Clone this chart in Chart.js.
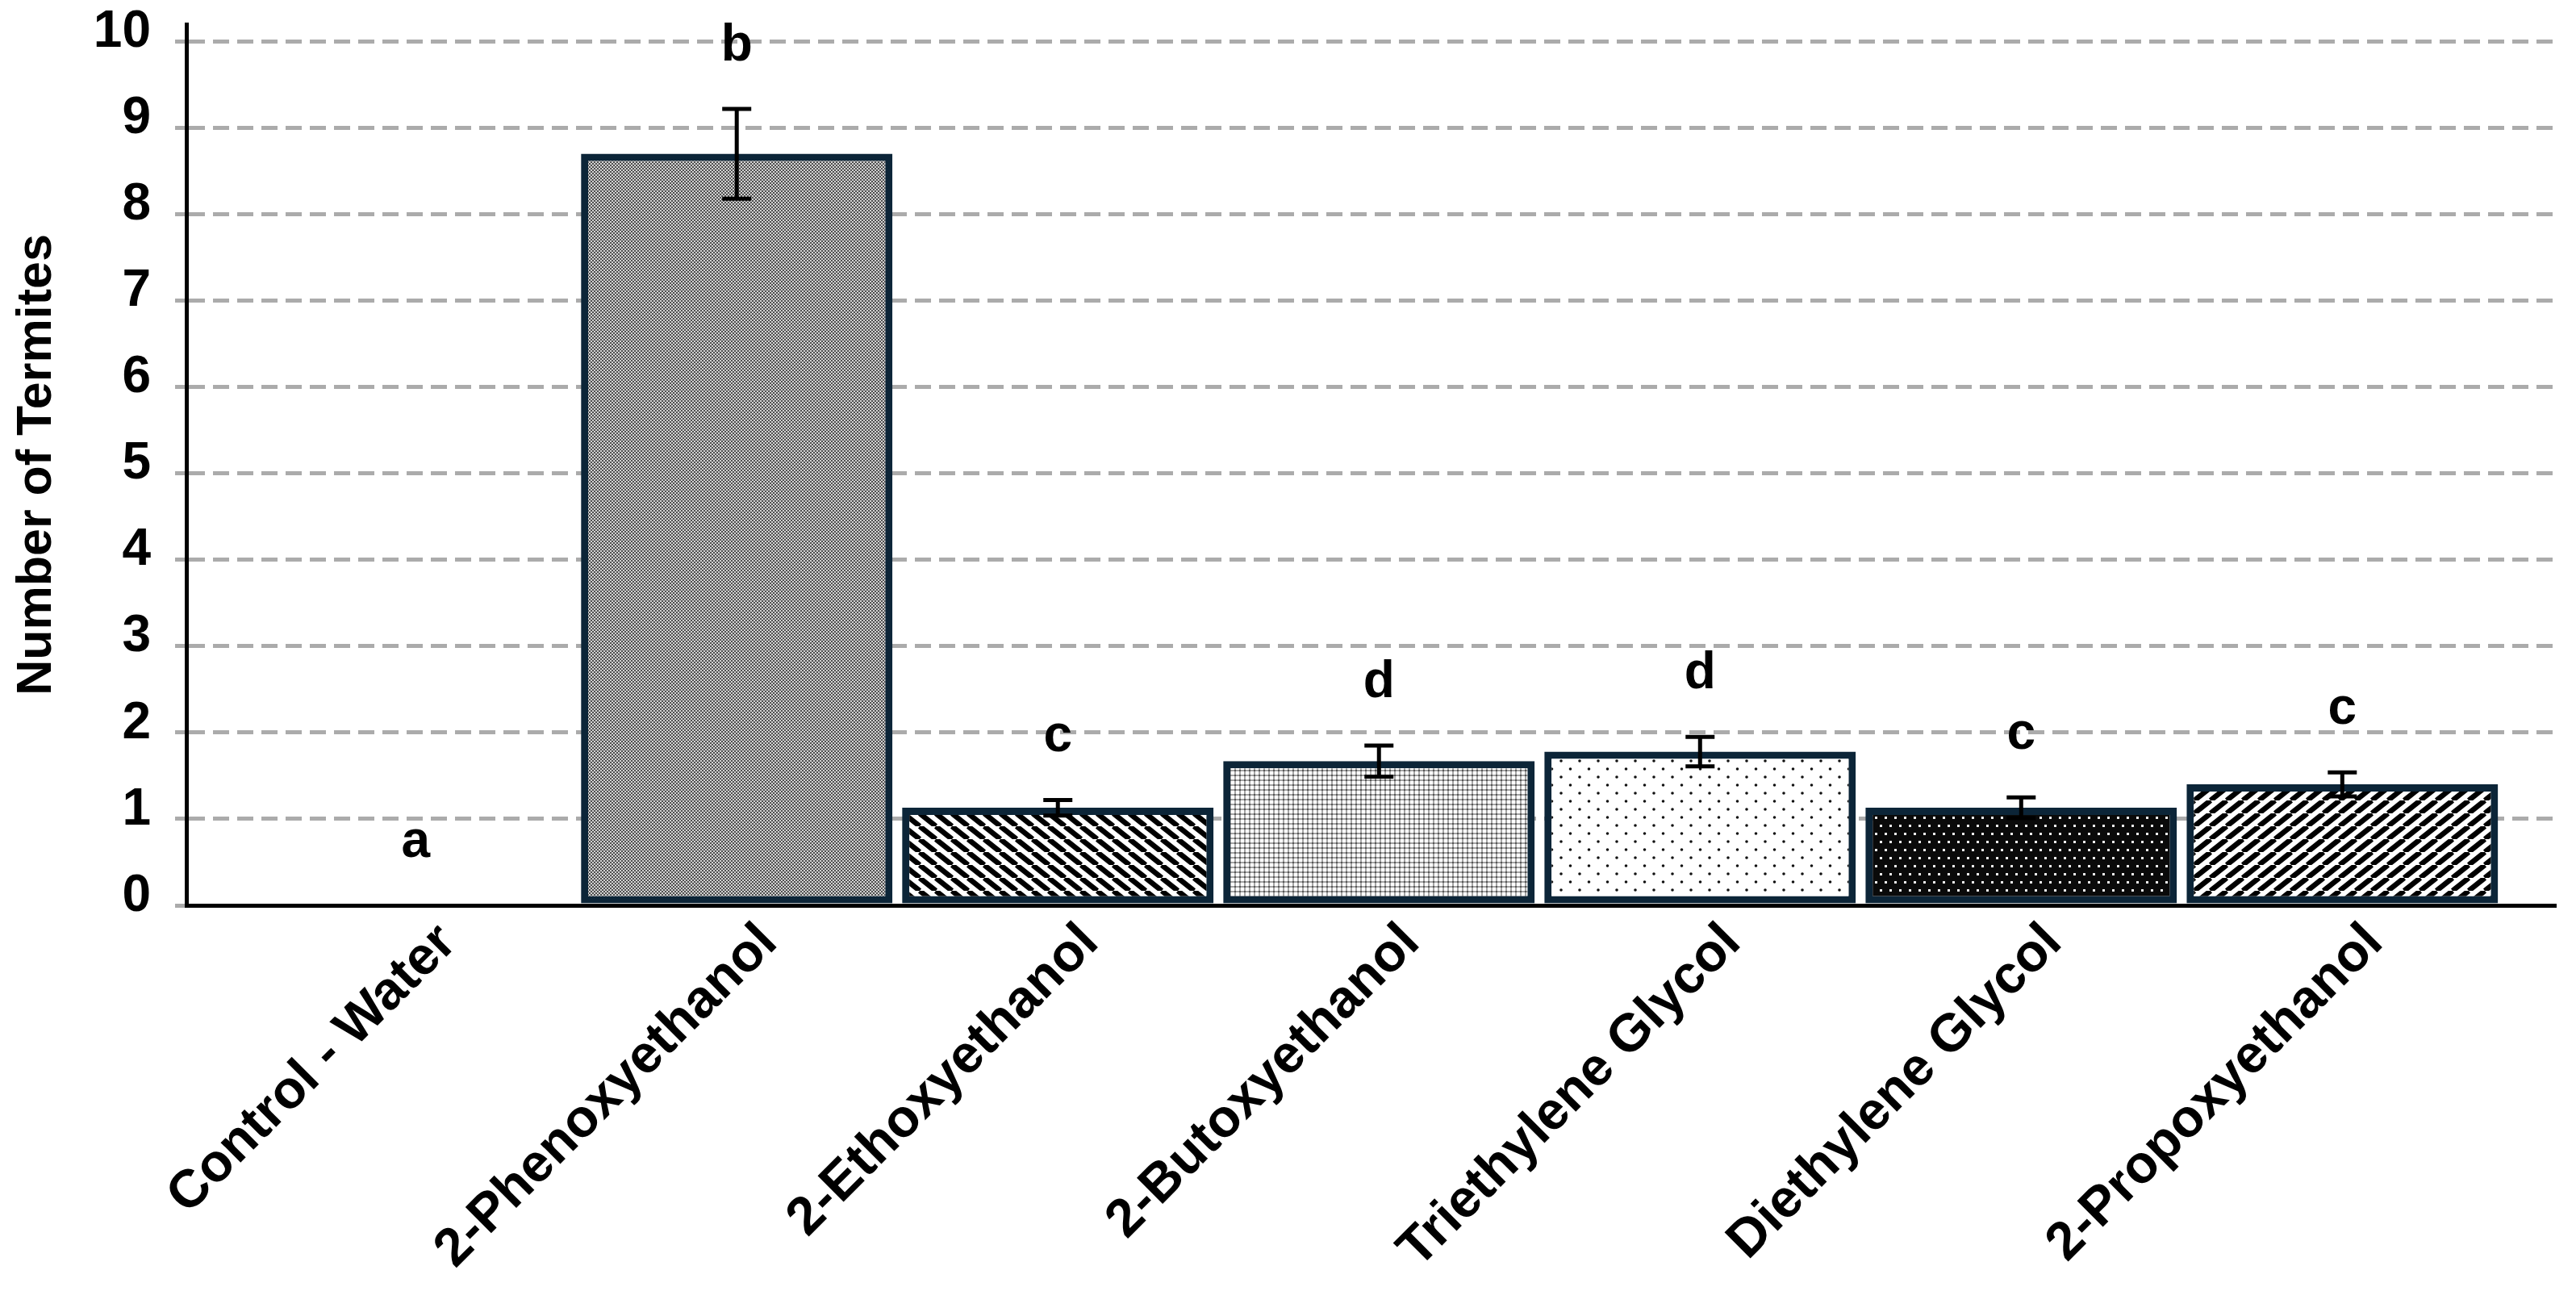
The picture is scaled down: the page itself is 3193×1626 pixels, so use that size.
<!DOCTYPE html>
<html>
<head>
<meta charset="utf-8">
<script src="https://cdn.jsdelivr.net/npm/chart.js@4.4.1/dist/chart.umd.min.js"></script>
<style>
  html, body { margin: 0; padding: 0; background: #ffffff; }
  #wrap { width: 3193px; height: 1626px; position: relative; }
</style>
</head>
<body>
<div id="wrap"><canvas id="c"></canvas></div>
<script>
// ---- data ----
const categories = ['Control - Water', '2-Phenoxyethanol', '2-Ethoxyethanol', '2-Butoxyethanol', 'Triethylene Glycol', 'Diethylene Glycol', '2-Propoxyethanol'];
const meanTermites = [0, 8.70, 1.13, 1.67, 1.78, 1.13, 1.40];
const errTermites = [0, 0.52, 0.09, 0.18, 0.17, 0.12, 0.14];
const groupLetters = ['a', 'b', 'c', 'd', 'd', 'c', 'c'];
const yTickStep = 1;

// ---- styles ----
const FONT = '"Liberation Sans", Arial, Helvetica, sans-serif';
const BAR_BORDER = '#0c2538';
const GRID = '#ababab';

const baseCtx = document.getElementById('c').getContext('2d');
function makePattern(w, h, draw) {
  const c = document.createElement('canvas');
  c.width = w; c.height = h;
  const g = c.getContext('2d');
  draw(g, w, h);
  return baseCtx.createPattern(c, 'repeat');
}
const patChecker = makePattern(4, 4, (g) => {
  g.fillStyle = '#d2d2d2'; g.fillRect(0, 0, 4, 4);
  g.fillStyle = '#4f4f4f'; g.fillRect(0, 0, 2, 2); g.fillRect(2, 2, 2, 2);
});
const patBack = makePattern(20, 16, (g, w, h) => {
  g.fillStyle = '#ffffff'; g.fillRect(0, 0, w, h);
  g.strokeStyle = '#000000'; g.lineWidth = 6.5;
  for (const dx of [-w, 0, w]) { g.beginPath(); g.moveTo(dx, 0); g.lineTo(dx + w, h); g.stroke(); }
});
const patFwd = makePattern(20, 16, (g, w, h) => {
  g.fillStyle = '#ffffff'; g.fillRect(0, 0, w, h);
  g.strokeStyle = '#000000'; g.lineWidth = 6.5;
  for (const dx of [-w, 0, w]) { g.beginPath(); g.moveTo(dx, h); g.lineTo(dx + w, 0); g.stroke(); }
});
const patLight = makePattern(6, 6, (g) => {
  g.fillStyle = '#ffffff'; g.fillRect(0, 0, 6, 6);
  g.fillStyle = '#a4a4a4'; g.fillRect(0, 0, 6, 2); g.fillRect(0, 0, 2, 6);
  g.fillStyle = '#555555'; g.fillRect(0, 0, 2, 2);
});
const patSparse = makePattern(23, 20, (g) => {
  g.fillStyle = '#ffffff'; g.fillRect(0, 0, 23, 20);
  g.fillStyle = '#111111';
  g.beginPath(); g.arc(3, 3, 1.8, 0, Math.PI * 2); g.fill();
  g.beginPath(); g.arc(14.5, 13, 1.8, 0, Math.PI * 2); g.fill();
});
const patDark = makePattern(12, 20, (g) => {
  g.fillStyle = '#0a0a0a'; g.fillRect(0, 0, 12, 20);
  g.fillStyle = '#eeeeee';
  g.fillRect(2, 2, 3, 3); g.fillRect(8, 12, 3, 3);
});
const barFills = ['#ffffff', patChecker, patBack, patLight, patSparse, patDark, patFwd];

// ---- error bars and group letters ----
const annotate = {
  id: 'annotate',
  afterDatasetsDraw(chart) {
    const { ctx, scales: { x, y } } = chart;
    ctx.save();
    ctx.strokeStyle = '#000000';
    ctx.lineWidth = 5;
    categories.forEach((c, i) => {
      const m = meanTermites[i], e = errTermites[i];
      const px = x.getPixelForValue(i);
      if (e > 0) {
        const top = y.getPixelForValue(m + e), bot = y.getPixelForValue(m - e);
        ctx.beginPath();
        ctx.moveTo(px, top); ctx.lineTo(px, bot);
        ctx.moveTo(px - 18, top); ctx.lineTo(px + 18, top);
        ctx.moveTo(px - 18, bot); ctx.lineTo(px + 18, bot);
        ctx.stroke();
      }
      ctx.fillStyle = '#000000';
      ctx.font = 'bold 64px ' + FONT;
      ctx.textAlign = 'center';
      ctx.textBaseline = 'alphabetic';
      ctx.fillText(groupLetters[i], px, y.getPixelForValue(m + e) - 60);
    });
    ctx.restore();
  }
};

new Chart(baseCtx, {
  type: 'bar',
  data: {
    datasets: [{
      data: categories.map((c, i) => ({ x: i, y: meanTermites[i] })),
      backgroundColor: barFills,
      borderColor: BAR_BORDER,
      borderWidth: (ctx) => (meanTermites[ctx.dataIndex] > 0 ? 9 : 0),
      borderSkipped: false,
      barPercentage: 0.97,
      categoryPercentage: 1
    }]
  },
  options: {
    responsive: true,
    maintainAspectRatio: false,
    devicePixelRatio: 1,
    animation: false,
    layout: { padding: { top: 30, right: 25, bottom: 0, left: 0 } },
    plugins: { legend: { display: false }, tooltip: { enabled: false } },
    scales: {
      x: {
        type: 'linear',
        min: -0.714,
        max: 6.665,
        offset: false,
        grid: { display: false, drawTicks: false, offset: false },
        border: { display: true, color: '#000000', width: 5, z: 1 },
        ticks: {
          stepSize: 1,
          includeBounds: false,
          autoSkip: false,
          minRotation: 45,
          maxRotation: 45,
          padding: 8,
          labelOffset: 40,
          color: '#000000',
          font: { family: FONT, size: 66, weight: 'bold' },
          callback: (v) => (categories[v] !== undefined ? categories[v] : '')
        },
        afterFit(s) { s.height = 504; s.paddingLeft = 0; s.paddingRight = 0; }
      },
      y: {
        min: 0,
        max: 10.2,
        grid: {
          color: GRID, lineWidth: 5,
          drawTicks: true, tickLength: 14, tickColor: GRID, tickWidth: 5, tickBorderDash: [20, 10]
        },
        border: { display: true, color: '#000000', width: 5, dash: [20, 10], z: 1 },
        ticks: {
          stepSize: yTickStep,
          includeBounds: false,
          padding: 30,
          labelOffset: -11,
          color: '#000000',
          font: { family: FONT, size: 64, weight: 'bold' }
        },
        title: {
          display: true,
          text: 'Number of Termites',
          color: '#000000',
          font: { family: FONT, size: 61, weight: 'bold' },
          padding: { top: 10, bottom: 0 }
        },
        afterFit(s) { s.width = 231; s.paddingTop = 0; s.paddingBottom = 0; }
      }
    }
  },
  plugins: [annotate]
});
</script>
</body>
</html>
